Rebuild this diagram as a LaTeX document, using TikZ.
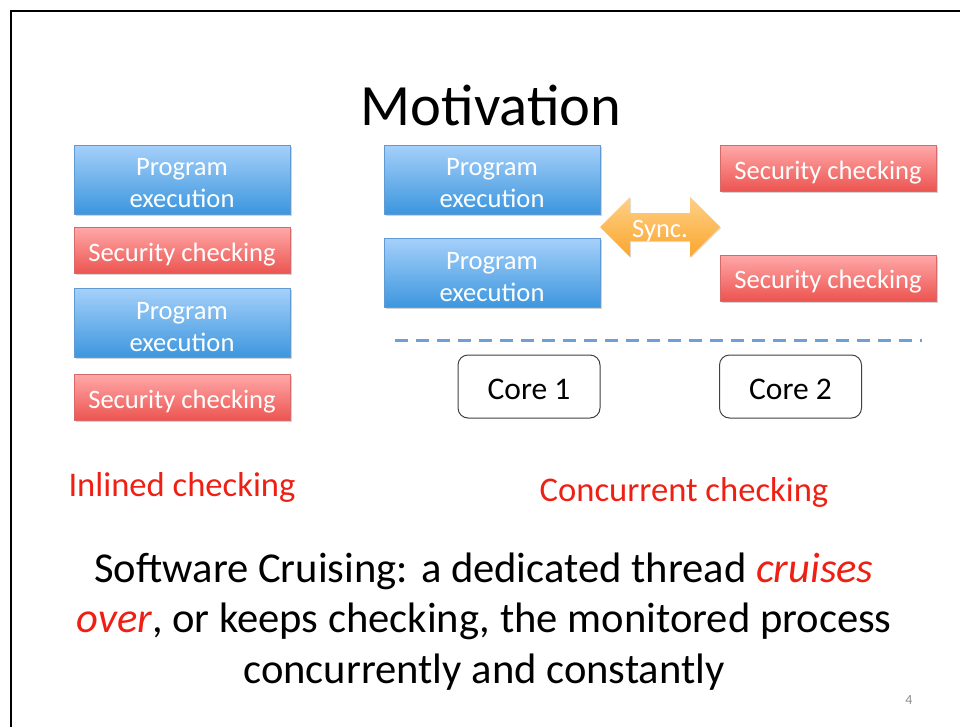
\documentclass[tikz,border=0pt]{standalone}
\usepackage{fontspec}
\setmainfont{Carlito}
\usetikzlibrary{shadows}
\definecolor{bluetop}{RGB}{165,208,250}
\definecolor{bluebot}{RGB}{60,150,222}
\definecolor{blueedge}{RGB}{95,155,210}
\definecolor{redtop}{RGB}{255,168,168}
\definecolor{redbot}{RGB}{236,84,80}
\definecolor{rededge}{RGB}{215,105,105}
\definecolor{orangetop}{RGB}{255,208,135}
\definecolor{orangebot}{RGB}{250,166,45}
\definecolor{dashblue}{RGB}{110,160,215}
\definecolor{txtred}{RGB}{238,32,20}
\tikzset{
  boxbase/.style={rectangle, draw, line width=0.8pt, inner sep=0pt, minimum width=216pt,
    drop shadow={opacity=0.35, shadow xshift=1.5pt, shadow yshift=-1.5pt}},
  progbox/.style={boxbase, top color=bluetop, bottom color=bluebot, draw=blueedge, minimum height=69pt},
  secbox/.style={boxbase, top color=redtop, bottom color=redbot, draw=rededge, minimum height=46pt},
  boxtext/.style={text=white, align=center, inner sep=0pt, font=\fontsize{26.6}{32}\selectfont},
  corebox/.style={rectangle, rounded corners=10pt, draw=black!75, line width=1pt, fill=white,
    minimum width=142pt, minimum height=63pt, font=\fontsize{31.5}{36}\selectfont,
    execute at begin node={\rule{0pt}{26.5pt}}},
  redlabel/.style={text=txtred, font=\fontsize{34.6}{40}\selectfont},
}
\newcommand{\tdown}{-4pt}
\begin{document}
\begin{tikzpicture}[x=1pt, y=-1pt]
\useasboundingbox (0,0) rectangle (960,726);
\draw[line width=2.2pt] (11,740) -- (11,11) -- (975,11);
\node (title) at (491,105) {\fontsize{58.5}{70}\selectfont Motivation};
% inlined column
\node[progbox] (lp1) at (182,179.5) {};
\node[boxtext] (lp1t) at ([yshift=\tdown]lp1.center) {Program\\execution};
\node[secbox]  (ls1) at (182,250.5) {};
\node[boxtext] (ls1t) at ([yshift=\tdown]ls1.center) {Security checking};
\node[progbox] (lp2) at (182,323) {};
\node[boxtext] (lp2t) at ([yshift=\tdown]lp2.center) {Program\\execution};
\node[secbox]  (ls2) at (182,397.5) {};
\node[boxtext] (ls2t) at ([yshift=\tdown]ls2.center) {Security checking};
% concurrent
\node[progbox] (mp1) at (492,179.5) {};
\node[boxtext] (mp1t) at ([yshift=\tdown]mp1.center) {Program\\execution};
\node[progbox] (mp2) at (492,273) {};
\node[boxtext] (mp2t) at ([yshift=\tdown]mp2.center) {Program\\execution};
\node[secbox]  (rs1) at (828,168.5) {};
\node[boxtext] (rs1t) at ([yshift=\tdown]rs1.center) {Security checking};
\node[secbox]  (rs2) at (828,278) {};
\node[boxtext] (rs2t) at ([yshift=\tdown]rs2.center) {Security checking};
% sync arrow
\shade[top color=orangetop, bottom color=orangebot, drop shadow={opacity=0.25, shadow xshift=1pt, shadow yshift=-1pt}]
  (600,227) -- (630,197) -- (630,213) -- (690,213) -- (690,197) -- (720,227)
  -- (690,257) -- (690,241) -- (630,241) -- (630,257) -- cycle;
\node[text=white, font=\fontsize{26.5}{30}\selectfont] (sync) at (660,231) {Sync.};
% separator
\draw[dashblue, line width=3pt, dash pattern=on 13pt off 8pt] (395,340) coordinate (d1) -- (922,340) coordinate (d2);
\node[corebox] (c1) at (529,386.5) {Core 1};
\node[corebox] (c2) at (790.5,386.5) {Core 2};
% labels
\node[redlabel] (inl) at (182,487) {Inlined checking};
\node[redlabel] (conc) at (684,492) {Concurrent checking};
\node[align=center, font=\fontsize{42.6}{50.5}\selectfont] (body) at (484,621.5)
  {Software Cruising: a dedicated thread \textcolor{txtred}{\itshape cruises}\\
   \textcolor{txtred}{\itshape over}, or keeps checking, the monitored process\\
   concurrently and constantly};
\node[text=black!45, font=\fontsize{14}{16}\selectfont] (pg) at (909,700) {4};
\end{tikzpicture}
\end{document}
